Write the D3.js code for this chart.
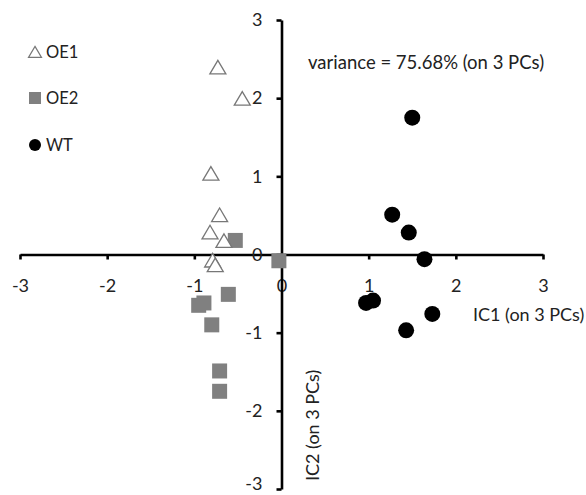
<!DOCTYPE html>
<html><head><meta charset="utf-8">
<script src="https://cdn.jsdelivr.net/npm/d3@7"></script>
<style>body{margin:0;background:#fff}svg{display:block}text{font-family:Lato,"Open Sans",sans-serif}</style>
</head><body>
<script>
const ticks = [-3,-2,-1,0,1,2,3];
const seriesNames = ["OE1","OE2","WT"];
const oe1X = [-0.73,-0.45,-0.81,-0.71,-0.82,-0.66,-0.79,-0.76];
const oe1Y = [2.38,1.98,1.02,0.49,0.27,0.16,-0.09,-0.15];
const oe2X = [-0.53,-0.03,-0.61,-0.89,-0.95,-0.80,-0.71,-0.71];
const oe2Y = [0.18,-0.08,-0.51,-0.62,-0.65,-0.90,-1.49,-1.75];
const wtX = [1.50,1.27,1.46,1.64,0.97,1.05,1.73,1.43];
const wtY = [1.75,0.51,0.28,-0.06,-0.62,-0.59,-0.76,-0.97];
const varianceLabel = "variance = 75.68% (on 3 PCs)";
const xTitle = "IC1 (on 3 PCs)", yTitle = "IC2 (on 3 PCs)";

const W=586,H=495;
const svg=d3.select("body").append("svg").attr("width",W).attr("height",H);
const x=d3.scaleLinear().domain([-3,3]).range([20,543]);
const y=d3.scaleLinear().domain([-3,3]).range([489,20]);
const fs=18;

const gx=svg.append("g").attr("transform",`translate(0,${y(0)})`)
  .call(d3.axisBottom(x).tickValues(ticks).tickFormat(d3.format("d")).tickSizeInner(5).tickSizeOuter(0).tickPadding(20));
const gy=svg.append("g").attr("transform",`translate(${x(0)},0)`)
  .call(d3.axisLeft(y).tickValues(ticks).tickFormat(d3.format("d")).tickSizeInner(5).tickSizeOuter(0).tickPadding(14));
[gx,gy].forEach(g=>{
  g.select(".domain").attr("stroke","#000").attr("stroke-width",2.6);
  g.selectAll(".tick line").attr("stroke","#000").attr("stroke-width",2.6);
  g.selectAll(".tick text").attr("font-size",fs).attr("fill","#222").style("font-family","Lato,'Open Sans',sans-serif");
});
gx.selectAll(".tick text").text(d=>d<0?"-"+Math.abs(d):d);
gy.selectAll(".tick text").text(d=>d<0?"-"+Math.abs(d):d);
gy.selectAll(".tick").filter(d=>d===-3).select("text").attr("dy","0.05em");

function triPath(s){
  const h=s*0.85;
  return `M0,${-h*0.6}L${s/2},${h*0.4}L${-s/2},${h*0.4}Z`;
}
svg.append("g").selectAll("rect").data(oe2X.map((v,i)=>[v,oe2Y[i]])).join("rect")
  .attr("x",d=>x(d[0])-7.5).attr("y",d=>y(d[1])-7.5).attr("width",15).attr("height",15).attr("fill","#808080");
svg.append("g").selectAll("path").data(oe1X.map((v,i)=>[v,oe1Y[i]])).join("path")
  .attr("d",triPath(16)).attr("transform",d=>`translate(${x(d[0])},${y(d[1])})`)
  .attr("fill","#fff").attr("stroke","#777").attr("stroke-width",1.3);
svg.append("g").selectAll("circle").data(wtX.map((v,i)=>[v,wtY[i]])).join("circle")
  .attr("cx",d=>x(d[0])).attr("cy",d=>y(d[1])).attr("r",8).attr("fill","#000");

const lg=svg.append("g");
lg.append("path").attr("d",triPath(13)).attr("transform","translate(35,53)").attr("fill","#fff").attr("stroke","#777").attr("stroke-width",1.2);
lg.append("rect").attr("x",29).attr("y",92).attr("width",12).attr("height",12).attr("fill","#808080");
lg.append("circle").attr("cx",35).attr("cy",145).attr("r",6).attr("fill","#000");
[[52,seriesNames[0]],[98,seriesNames[1]],[145,seriesNames[2]]].forEach(([yy,t])=>{
  lg.append("text").attr("x",46).attr("y",yy).attr("dy","0.36em").attr("font-size",16.5).attr("fill","#222").text(t);
});

svg.append("text").attr("x",308).attr("y",69).attr("font-size",18.5).attr("fill","#222").text(varianceLabel);
svg.append("text").attr("x",473).attr("y",321).attr("font-size",fs).attr("fill","#222").text(xTitle);
svg.append("text").attr("transform","translate(319,481) rotate(-90)").attr("font-size",fs).attr("fill","#222").text(yTitle);
</script>
</body></html>
